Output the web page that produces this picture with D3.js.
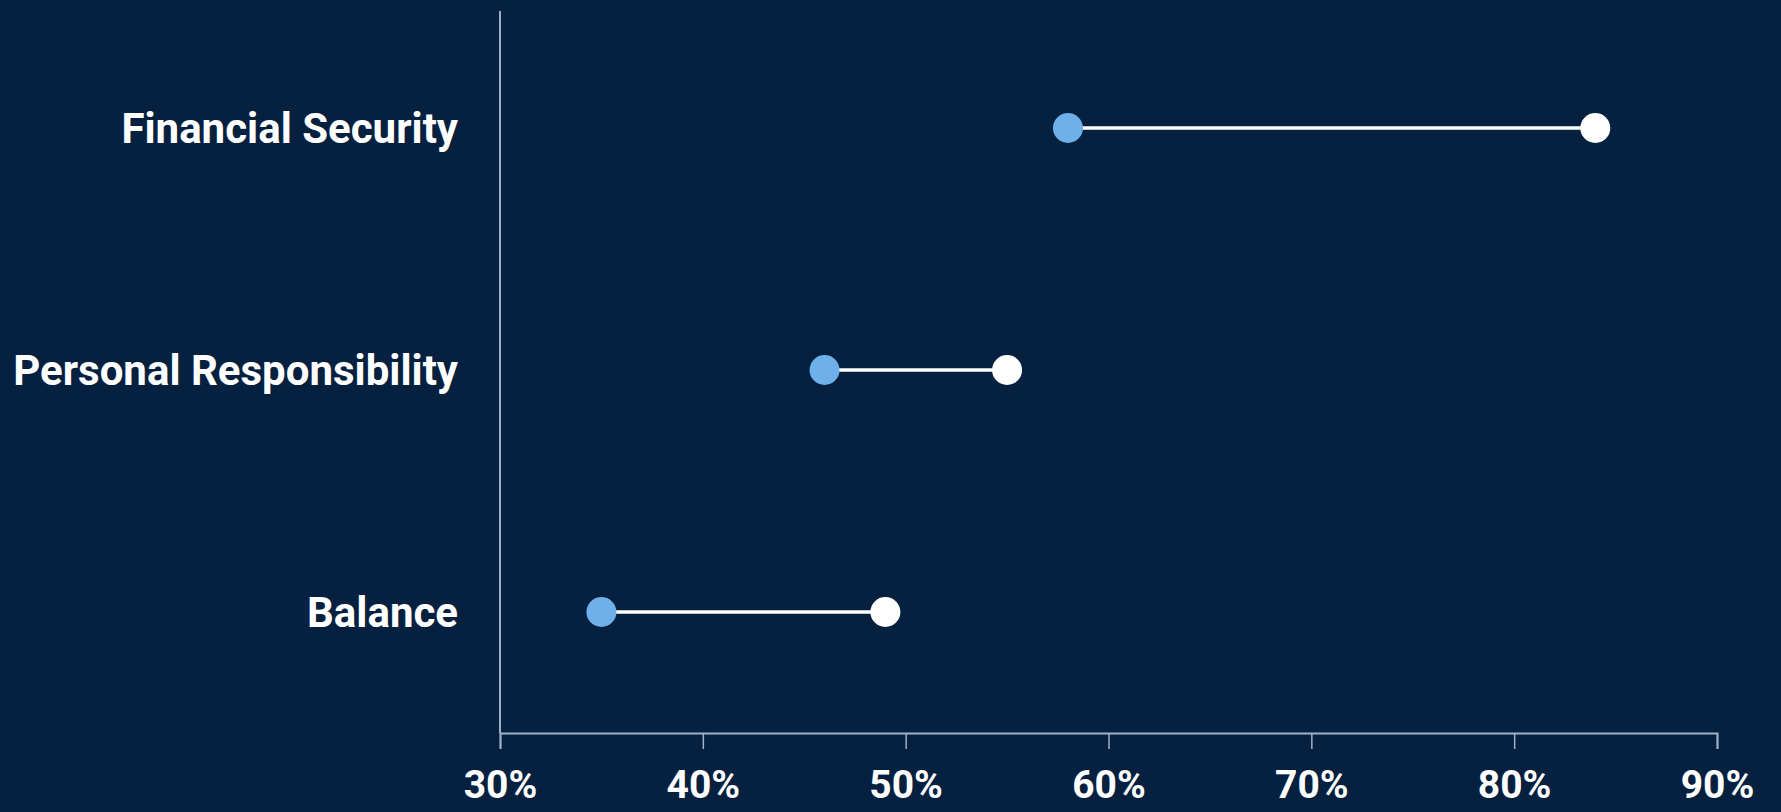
<!DOCTYPE html>
<html>
<head>
<meta charset="utf-8">
<script src="https://cdn.jsdelivr.net/npm/d3@7"></script>
<style>
  html, body { margin: 0; padding: 0; background: #062040; overflow: hidden; }
  text { font-family: Roboto, "Noto Sans", sans-serif; font-weight: 700; fill: #fff; }
</style>
</head>
<body>
<script>
// data (percent)
const categories = ['Financial Security', 'Personal Responsibility', 'Balance'];
const startValues = [58, 46, 35];   // blue dots
const endValues = [84, 55, 49];     // white dots
const xTicks = [30, 40, 50, 60, 70, 80, 90];

const width = 1781;
const height = 812;
const margin = {top: 11, right: 64, bottom: 79, left: 500};

const svg = d3.select('body').append('svg')
    .attr('width', width)
    .attr('height', height);

svg.append('rect')
    .attr('width', width)
    .attr('height', height)
    .attr('fill', '#062040');

const x = d3.scaleLinear()
    .domain([30, 90])
    .range([margin.left, width - margin.right]);

const y = d3.scalePoint()
    .domain(categories)
    .range([128, 612]);

// axes
const xAxis = svg.append('g')
    .attr('transform', `translate(0,${height - margin.bottom})`)
    .call(d3.axisBottom(x).tickValues(xTicks).tickFormat(d => d + '%').tickSize(16).tickPadding(21));

xAxis.select('.domain').attr('stroke', '#9fb1c8').attr('stroke-width', 2);
xAxis.selectAll('.tick line').attr('stroke', '#9fb1c8').attr('stroke-width', 1.5);
xAxis.selectAll('.tick text')
    .attr('fill', '#fff')
    .attr('font-size', 39)
    .attr('font-family', 'Roboto, sans-serif')
    .attr('font-weight', 700);

svg.append('line')
    .attr('x1', margin.left).attr('x2', margin.left)
    .attr('y1', margin.top).attr('y2', height - margin.bottom)
    .attr('stroke', '#9fb1c8')
    .attr('stroke-width', 2);

// category labels
svg.selectAll('.cat')
    .data(categories)
    .join('text')
    .attr('class', 'cat')
    .attr('x', 458)
    .attr('y', d => y(d))
    .attr('dy', '0.35em')
    .attr('text-anchor', 'end')
    .attr('font-size', 42)
    .text(d => d);

const rows = categories.map((c, i) => ({cat: c, a: startValues[i], b: endValues[i]}));

svg.selectAll('.link')
    .data(rows)
    .join('line')
    .attr('class', 'link')
    .attr('x1', d => x(d.a))
    .attr('x2', d => x(d.b))
    .attr('y1', d => y(d.cat))
    .attr('y2', d => y(d.cat))
    .attr('stroke', '#fff')
    .attr('stroke-width', 3.5);

svg.selectAll('.dotA')
    .data(rows)
    .join('circle')
    .attr('class', 'dotA')
    .attr('cx', d => x(d.a))
    .attr('cy', d => y(d.cat))
    .attr('r', 15)
    .attr('fill', '#6eb0ea');

svg.selectAll('.dotB')
    .data(rows)
    .join('circle')
    .attr('class', 'dotB')
    .attr('cx', d => x(d.b))
    .attr('cy', d => y(d.cat))
    .attr('r', 15)
    .attr('fill', '#fff');
</script>
</body>
</html>
